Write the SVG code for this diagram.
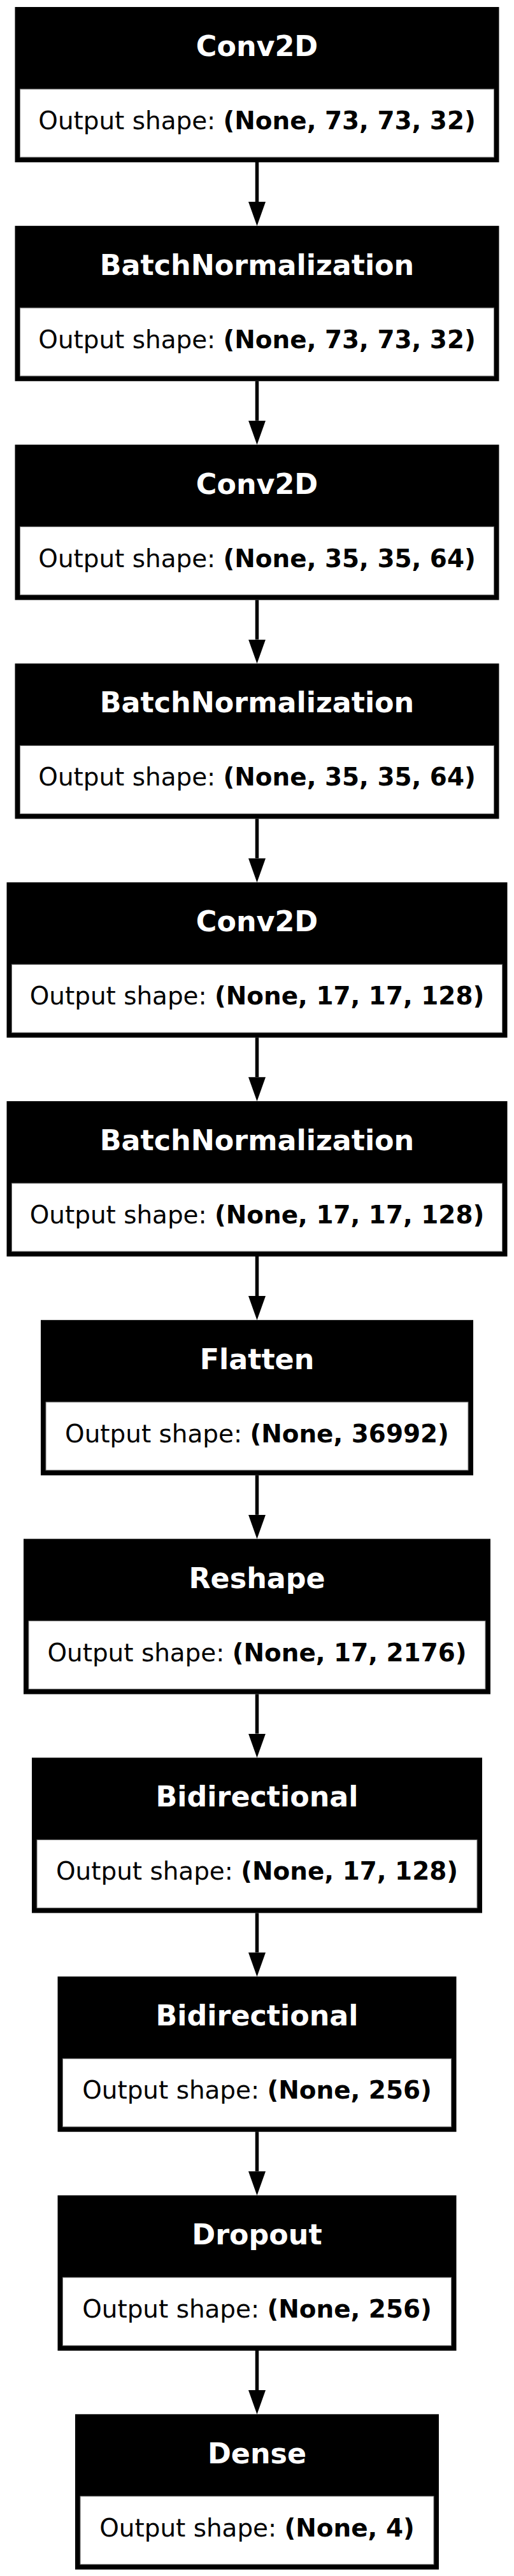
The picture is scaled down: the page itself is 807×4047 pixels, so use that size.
<svg xmlns="http://www.w3.org/2000/svg" width="807" height="4047" viewBox="0 0 807 4047">
<style>
.frame{fill:#000;}
.body{fill:#fff;stroke:#777;stroke-width:1;}
.hd{font-family:"DejaVu Sans","Liberation Sans",sans-serif;font-weight:bold;font-size:44.4px;fill:#fff;text-anchor:middle;}
.tx{font-family:"DejaVu Sans","Liberation Sans",sans-serif;font-size:38.9px;fill:#000;text-anchor:middle;}
.b{font-weight:bold;}
.edge{stroke:#000;stroke-width:5.5;fill:none;marker-end:url(#ah);}
</style>
<defs>
<marker id="ah" markerUnits="userSpaceOnUse" markerWidth="38" markerHeight="28" refX="0" refY="13.5" orient="auto" viewBox="0 0 38 27">
<path d="M0,0 L38,13.5 L0,27 z" fill="#000"/>
</marker>
</defs>
<rect x="0" y="0" width="807" height="4047" fill="#fff"/>
<g id="connectors">
<line class="edge" x1="403.5" y1="255" x2="403.5" y2="317"/>
<line class="edge" x1="403.5" y1="598.8" x2="403.5" y2="660.8"/>
<line class="edge" x1="403.5" y1="942.6" x2="403.5" y2="1004.6"/>
<line class="edge" x1="403.5" y1="1286.4" x2="403.5" y2="1348.4"/>
<line class="edge" x1="403.5" y1="1630.2" x2="403.5" y2="1692.2"/>
<line class="edge" x1="403.5" y1="1974" x2="403.5" y2="2036"/>
<line class="edge" x1="403.5" y1="2317.8" x2="403.5" y2="2379.8"/>
<line class="edge" x1="403.5" y1="2661.6" x2="403.5" y2="2723.6"/>
<line class="edge" x1="403.5" y1="3005.4" x2="403.5" y2="3067.4"/>
<line class="edge" x1="403.5" y1="3349.2" x2="403.5" y2="3411.2"/>
<line class="edge" x1="403.5" y1="3693" x2="403.5" y2="3755"/>
</g>
<g id="node1">
<rect class="frame" x="23.5" y="11" width="760" height="244"/>
<rect class="body" x="31.5" y="140" width="744" height="107"/>
<text class="hd" x="403.5" y="88">Conv2D</text>
<text class="tx" x="403.5" y="203">Output shape: <tspan class="b">(None, 73, 73, 32)</tspan></text>
</g>
<g id="node2">
<rect class="frame" x="23.5" y="354.8" width="760" height="244"/>
<rect class="body" x="31.5" y="483.8" width="744" height="107"/>
<text class="hd" x="403.5" y="431.8">BatchNormalization</text>
<text class="tx" x="403.5" y="546.8">Output shape: <tspan class="b">(None, 73, 73, 32)</tspan></text>
</g>
<g id="node3">
<rect class="frame" x="23.5" y="698.6" width="760" height="244"/>
<rect class="body" x="31.5" y="827.6" width="744" height="107"/>
<text class="hd" x="403.5" y="775.6">Conv2D</text>
<text class="tx" x="403.5" y="890.6">Output shape: <tspan class="b">(None, 35, 35, 64)</tspan></text>
</g>
<g id="node4">
<rect class="frame" x="23.5" y="1042.4" width="760" height="244"/>
<rect class="body" x="31.5" y="1171.4" width="744" height="107"/>
<text class="hd" x="403.5" y="1119.4">BatchNormalization</text>
<text class="tx" x="403.5" y="1234.4">Output shape: <tspan class="b">(None, 35, 35, 64)</tspan></text>
</g>
<g id="node5">
<rect class="frame" x="10.5" y="1386.2" width="786" height="244"/>
<rect class="body" x="18.5" y="1515.2" width="770" height="107"/>
<text class="hd" x="403.5" y="1463.2">Conv2D</text>
<text class="tx" x="403.5" y="1578.2">Output shape: <tspan class="b">(None, 17, 17, 128)</tspan></text>
</g>
<g id="node6">
<rect class="frame" x="10.5" y="1730" width="786" height="244"/>
<rect class="body" x="18.5" y="1859" width="770" height="107"/>
<text class="hd" x="403.5" y="1807">BatchNormalization</text>
<text class="tx" x="403.5" y="1922">Output shape: <tspan class="b">(None, 17, 17, 128)</tspan></text>
</g>
<g id="node7">
<rect class="frame" x="64" y="2073.8" width="679" height="244"/>
<rect class="body" x="72" y="2202.8" width="663" height="107"/>
<text class="hd" x="403.5" y="2150.8">Flatten</text>
<text class="tx" x="403.5" y="2265.8">Output shape: <tspan class="b">(None, 36992)</tspan></text>
</g>
<g id="node8">
<rect class="frame" x="37" y="2417.6" width="733" height="244"/>
<rect class="body" x="45" y="2546.6" width="717" height="107"/>
<text class="hd" x="403.5" y="2494.6">Reshape</text>
<text class="tx" x="403.5" y="2609.6">Output shape: <tspan class="b">(None, 17, 2176)</tspan></text>
</g>
<g id="node9">
<rect class="frame" x="50" y="2761.4" width="707" height="244"/>
<rect class="body" x="58" y="2890.4" width="691" height="107"/>
<text class="hd" x="403.5" y="2838.4">Bidirectional</text>
<text class="tx" x="403.5" y="2953.4">Output shape: <tspan class="b">(None, 17, 128)</tspan></text>
</g>
<g id="node10">
<rect class="frame" x="90.5" y="3105.2" width="626" height="244"/>
<rect class="body" x="98.5" y="3234.2" width="610" height="107"/>
<text class="hd" x="403.5" y="3182.2">Bidirectional</text>
<text class="tx" x="403.5" y="3297.2">Output shape: <tspan class="b">(None, 256)</tspan></text>
</g>
<g id="node11">
<rect class="frame" x="90.5" y="3449" width="626" height="244"/>
<rect class="body" x="98.5" y="3578" width="610" height="107"/>
<text class="hd" x="403.5" y="3526">Dropout</text>
<text class="tx" x="403.5" y="3641">Output shape: <tspan class="b">(None, 256)</tspan></text>
</g>
<g id="node12">
<rect class="frame" x="118" y="3792.8" width="571" height="244"/>
<rect class="body" x="126" y="3921.8" width="555" height="107"/>
<text class="hd" x="403.5" y="3869.8">Dense</text>
<text class="tx" x="403.5" y="3984.8">Output shape: <tspan class="b">(None, 4)</tspan></text>
</g>
</svg>
